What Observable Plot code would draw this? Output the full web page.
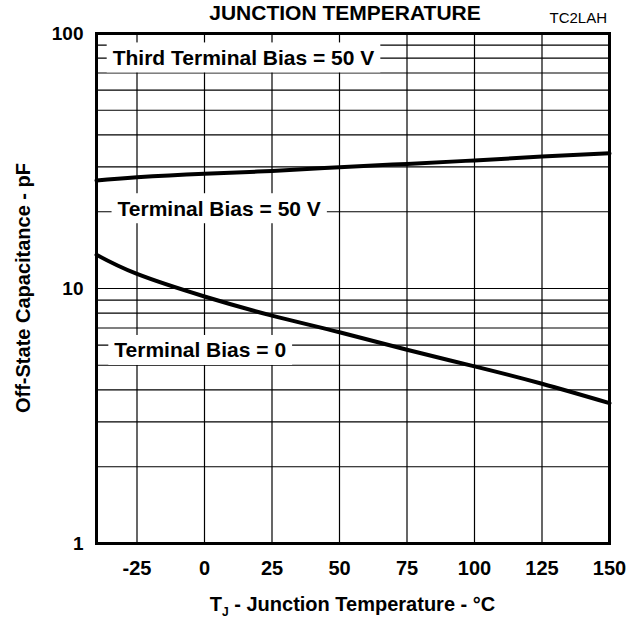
<!DOCTYPE html>
<html>
<head>
<meta charset="utf-8">
<script src="https://cdn.jsdelivr.net/npm/d3@7"></script>
<script src="https://cdn.jsdelivr.net/npm/@observablehq/plot@0.6"></script>
<style>
  html, body { margin: 0; padding: 0; background: #fff; }
  #chart svg { display: block; }
</style>
</head>
<body>
<div id="chart"></div>
<script>
// ---- data ----
const temps = [-40, -25, 0, 25, 50, 75, 100, 125, 150];
const thirdBias = [26.5, 27.3, 28.2, 28.9, 29.9, 30.8, 31.8, 32.9, 33.9];
const zeroBias = [13.55, 11.4, 9.3, 7.83, 6.74, 5.75, 4.95, 4.23, 3.55];

const xTicks = [-25, 0, 25, 50, 75, 100, 125, 150];
const yTicks = [1, 10, 100];
const xGrid = [-25, 0, 25, 50, 75, 100, 125];
const yGrid = [2, 3, 4, 5, 6, 7, 8, 9, 10, 20, 30, 40, 50, 60, 70, 80, 90];

const labelText = ["Third Terminal Bias = 50 V", "Terminal Bias = 50 V", "Terminal Bias = 0"];
const labelX = [-34, -32.2, -33.4];
const labelY = [80, 20.5, 5.7];

const titleText = "JUNCTION TEMPERATURE";
const codeText = "TC2LAH";
const yTitle = "Off-State Capacitance - pF";

// ---- tables built from the arrays ----
const rows = [
  ...temps.map((t, i) => ({t, c: thirdBias[i], s: "third"})),
  ...temps.map((t, i) => ({t, c: zeroBias[i], s: "zero"}))
];
const labels = labelText.map((text, i) => ({text, x: labelX[i], y: labelY[i]}));

const FONT = "'Liberation Sans', Arial, Helvetica, sans-serif";
const W = 627, H = 619;
const mL = 96, mR = 18, mT = 33, mB = 76;

const svg = Plot.plot({
  width: W,
  height: H,
  marginLeft: mL,
  marginRight: mR,
  marginTop: mT,
  marginBottom: mB,
  style: {fontFamily: FONT, fontWeight: "bold", background: "#fff", color: "#000"},
  x: {domain: [-40, 150], label: null},
  y: {type: "log", domain: [1, 100], label: null},
  marks: [
    Plot.ruleX(xGrid, {stroke: "#000", strokeWidth: 1.2}),
    Plot.ruleY(yGrid, {stroke: "#000", strokeWidth: 1.2}),
    Plot.line(rows, {x: "t", y: "c", z: "s", stroke: "#000", strokeWidth: 4, curve: "natural"}),
    Plot.text(labels, {x: "x", y: "y", text: "text", textAnchor: "start", lineAnchor: "middle",
      fontSize: 21, fontWeight: "bold", fill: "#000"}),
    Plot.axisX(xTicks, {tickSize: 0, tickPadding: 17, fontSize: 20, fontWeight: "bold", label: null,
      tickFormat: d => String(d)}),
    Plot.axisY(yTicks, {tickSize: 0, tickPadding: 13, fontSize: 19, fontWeight: "bold", label: null,
      tickFormat: d => String(d)}),
    Plot.frame({stroke: "#000", strokeWidth: 3})
  ]
});

document.getElementById("chart").append(svg);

const s = d3.select(svg);

// white boxes behind the in-plot labels
s.selectAll("text").filter(function () { return labelText.includes(this.textContent); })
  .each(function () {
    const b = this.getBBox();
    const r = document.createElementNS("http://www.w3.org/2000/svg", "rect");
    const padX = 6, padY = 3.5;
    r.setAttribute("x", b.x - padX);
    r.setAttribute("y", b.y - padY);
    r.setAttribute("width", b.width + 2 * padX);
    r.setAttribute("height", b.height + 2 * padY);
    r.setAttribute("fill", "#fff");
    const tr = this.getAttribute("transform");
    if (tr) r.setAttribute("transform", tr);
    this.parentNode.insertBefore(r, this);
  });

const cx = mL + (W - mL - mR) / 2;

// title (kept fully inside the picture)
s.append("text")
  .attr("x", 345).attr("y", 20)
  .attr("text-anchor", "middle")
  .style("font-family", FONT).style("font-weight", "bold").style("font-size", "21px")
  .text(titleText);

// figure code
s.append("text")
  .attr("x", W - 20).attr("y", 23)
  .attr("text-anchor", "end")
  .style("font-family", FONT).style("font-weight", "normal").style("font-size", "15px")
  .text(codeText);

// x axis title with subscript
const xt = s.append("text")
  .attr("x", cx).attr("y", 611)
  .attr("text-anchor", "middle")
  .style("font-family", FONT).style("font-weight", "bold").style("font-size", "20px");
xt.append("tspan").text("T");
xt.append("tspan").attr("dy", 5).style("font-size", "12px").text("J");
xt.append("tspan").attr("dy", -5).text(" - Junction Temperature - °C");

// y axis title
s.append("text")
  .attr("transform", `translate(30,${mT + (H - mT - mB) / 2}) rotate(-90)`)
  .attr("text-anchor", "middle")
  .style("font-family", FONT).style("font-weight", "bold").style("font-size", "20px")
  .text(yTitle);
</script>
</body>
</html>
